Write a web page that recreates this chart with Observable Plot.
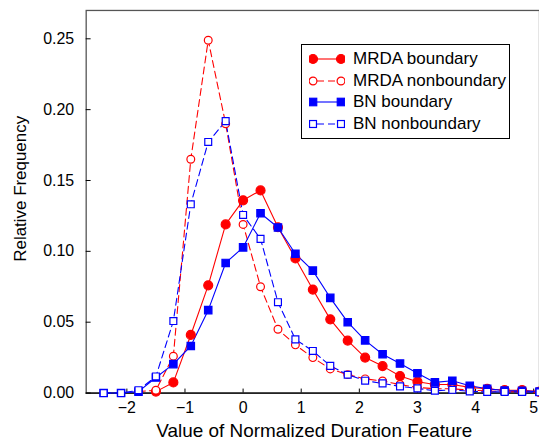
<!DOCTYPE html>
<html>
<head>
<meta charset="utf-8">
<script src="https://cdn.jsdelivr.net/npm/d3@7"></script>
<script src="https://cdn.jsdelivr.net/npm/@observablehq/plot@0.6"></script>
<style>
  html, body { margin: 0; padding: 0; background: #fff; overflow: hidden; }
  #wrap { position: relative; width: 539px; height: 443px; overflow: hidden; }
  #legend { position: absolute; left: 301px; top: 44px; width: 207px; height: 93px;
    border: 1px solid #000; background: #fff; font-family: "Liberation Sans", Arial, sans-serif; font-size: 17px; color: #000; }
  .row { position: absolute; left: 0; height: 22px; display: flex; align-items: center; }
  .row svg { margin-left: 7px; }
  .row span { margin-left: 8px; white-space: nowrap; }
</style>
</head>
<body>
<div id="wrap"><div id="chart"></div><div id="legend"></div></div>
<script>
const xValues = [-2.4, -2.1, -1.8, -1.5, -1.2, -0.9, -0.6, -0.3, 0, 0.3, 0.6, 0.9, 1.2, 1.5, 1.8, 2.1, 2.4, 2.7, 3.0, 3.3, 3.6, 3.9, 4.2, 4.5, 4.8, 5.1];
const mrdaBoundary = [null, null, null, 0.001, 0.0075, 0.041, 0.076, 0.119, 0.136, 0.143, 0.117, 0.095, 0.073, 0.052, 0.037, 0.025, 0.019, 0.012, 0.008, 0.006, 0.006, 0.004, 0.003, 0.002, 0.002, 0.001];
const mrdaNonboundary = [null, null, 0.001, 0.002, 0.026, 0.165, 0.249, 0.190, 0.119, 0.075, 0.045, 0.034, 0.025, 0.017, 0.013, 0.010, 0.0085, 0.006, 0.004, 0.003, 0.003, 0.002, 0.0015, 0.001, 0.001, 0.0005];
const bnBoundary = [0, 0, 0.001, 0.011, 0.0204, 0.0332, 0.0585, 0.0918, 0.1028, 0.1269, 0.1168, 0.0983, 0.0864, 0.0672, 0.050, 0.0372, 0.0274, 0.0208, 0.014, 0.0075, 0.0087, 0.0051, 0.003, 0.0017, 0.0015, 0.001];
const bnNonboundary = [0, 0, 0.002, 0.0117, 0.0508, 0.1332, 0.1772, 0.1919, 0.1257, 0.1088, 0.0641, 0.0379, 0.0297, 0.0192, 0.0129, 0.0087, 0.0068, 0.0047, 0.0033, 0.0016, 0.0023, 0.0012, 0.0008, 0.0008, 0.0008, 0.0005];
const seriesNames = ["MRDA boundary", "MRDA nonboundary", "BN boundary", "BN nonboundary"];
const xTicks = [-2, -1, 0, 1, 2, 3, 4, 5];
const yTicks = [0, 0.05, 0.10, 0.15, 0.20, 0.25];
const xLabel = "Value of Normalized Duration Feature";
const yLabel = "Relative Frequency";

const RED = "#ff0000", BLUE = "#0000ff";
const styles = [
  {color: RED, dash: null, symbol: "circle", fill: true, r: 4.5},
  {color: RED, dash: "7,4", symbol: "circle", fill: false, r: 3.9},
  {color: BLUE, dash: null, symbol: "square", fill: true, r: 4.2},
  {color: BLUE, dash: "7,4", symbol: "square", fill: false, r: 3.9}
];
const allSeries = [mrdaBoundary, mrdaNonboundary, bnBoundary, bnNonboundary];
const tables = allSeries.map(vals => xValues.map((x, i) => ({x, y: vals[i]})).filter(d => d.y != null));

const marks = [
  Plot.frame({stroke: "#555", strokeWidth: 1.3}),
  Plot.ruleY([0], {stroke: "#000", strokeWidth: 1.3}),
  Plot.ruleX(xTicks, {y1: 0, y2: 0.0028, stroke: "#000"}),
  Plot.ruleY(yTicks, {x1: -2.7, x2: -2.615, stroke: "#000"}),
  Plot.axisX(xTicks, {tickSize: 0, tickPadding: 9, fontSize: 16, tickFormat: d => d < 0 ? "\u2212" + Math.abs(d) : String(d), label: null}),
  Plot.axisY(yTicks, {tickSize: 0, tickPadding: 12, fontSize: 16, tickFormat: d3.format(".2f"), label: null}),
  Plot.text([xLabel], {frameAnchor: "bottom", lineAnchor: "middle", textAnchor: "middle", dx: 1.5, dy: 38, fontSize: 19, fill: "#000"}),
  Plot.text([yLabel], {frameAnchor: "left", lineAnchor: "middle", textAnchor: "middle", dx: -66, dy: -13, rotate: -90, fontSize: 17, fill: "#000"})
];
tables.forEach((t, k) => {
  const s = styles[k];
  marks.push(Plot.line(t, {x: "x", y: "y", stroke: s.color, strokeWidth: 1.1, strokeDasharray: s.dash}));
});
tables.forEach((t, k) => {
  const s = styles[k];
  marks.push(Plot.dot(t, {x: "x", y: "y", r: s.r, symbol: s.symbol, stroke: s.color, strokeWidth: 1.2, fill: s.fill ? s.color : "#fff"}));
});

const chart = Plot.plot({
  width: 541, height: 443,
  marginLeft: 86, marginRight: 0, marginTop: 10, marginBottom: 49,
  x: {domain: [-2.7, 5.1]},
  y: {domain: [0, 0.27]},
  style: {fontFamily: "'Liberation Sans', Arial, sans-serif", fontSize: "16px", color: "#000", background: "#fff"},
  marks
});
document.getElementById("chart").appendChild(chart);

// legend
const legend = document.getElementById("legend");
seriesNames.forEach((name, k) => {
  const s = styles[k];
  const row = document.createElement("div");
  row.className = "row";
  row.style.top = (3 + k * 21.7) + "px";
  const sz = 36;
  const mk = (cx) => s.symbol === "circle"
    ? `<circle cx="${cx}" cy="11" r="${s.r}" fill="${s.fill ? s.color : '#fff'}" stroke="${s.color}" stroke-width="1.2"/>`
    : `<rect x="${cx - s.r * 0.89}" y="${11 - s.r * 0.89}" width="${s.r * 1.78}" height="${s.r * 1.78}" fill="${s.fill ? s.color : '#fff'}" stroke="${s.color}" stroke-width="1.2"/>`;
  row.innerHTML = `<svg width="${sz}" height="22"><line x1="4" y1="11" x2="${sz - 4}" y2="11" stroke="${s.color}" stroke-width="1.1" ${s.dash ? `stroke-dasharray="${s.dash}" stroke-dashoffset="-4"` : ""}/>${mk(4)}${mk(sz - 4)}</svg><span>${name}</span>`;
  legend.appendChild(row);
});
</script>
</body>
</html>
